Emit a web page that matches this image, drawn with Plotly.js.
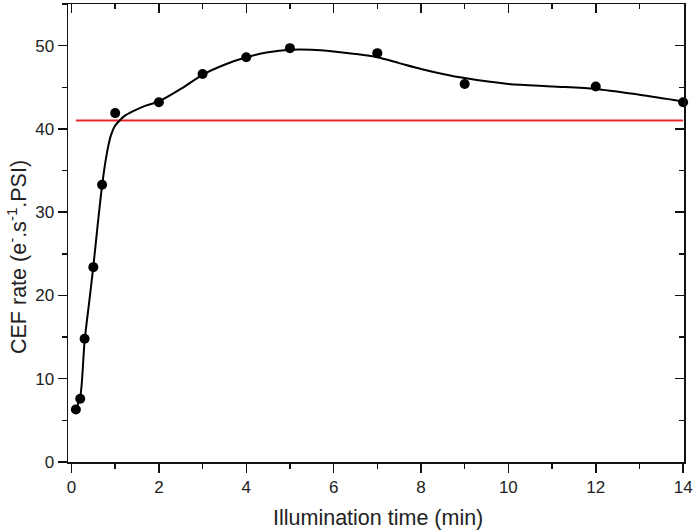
<!DOCTYPE html>
<html>
<head>
<meta charset="utf-8">
<script src="https://cdn.plot.ly/plotly-3.0.1.min.js"></script>
<style>html,body{margin:0;padding:0;background:#fff;}#chart{width:693px;height:532px;}</style>
</head>
<body>
<div id="chart"></div>
<script>
// Measured data points
const timeMin = [0.1, 0.2, 0.3, 0.5, 0.7, 1, 2, 3, 4, 5, 7, 9, 12, 14];
const cefRate = [6.3, 7.6, 14.8, 23.4, 33.3, 41.9, 43.2, 46.6, 48.6, 49.7, 49.1, 45.4, 45.1, 43.2];

// Fitted curve
const fitX = [0.1,0.2,0.3,0.4,0.5,0.6,0.7,0.8,0.9,1.0,1.1,1.2,1.4,1.7,2,2.5,3,3.5,4,4.5,5,5.5,6,6.5,7,7.5,8,8.5,9,10,11,12,13,14];
const fitY = [6.3,7.8,14.5,19,23.5,28.5,33.2,36.8,39.2,40.4,41.0,41.5,42.1,42.8,43.3,44.8,46.5,47.7,48.6,49.2,49.5,49.5,49.3,49.0,48.6,47.9,47.2,46.6,46.1,45.4,45.1,44.8,44.1,43.3];

// Reference level (red line)
const refX = [0.1, 14];
const refY = [41, 41];

const xTickVals = [0, 2, 4, 6, 8, 10, 12, 14];
const yTickVals = [0, 10, 20, 30, 40, 50];
const xTitle = 'Illumination time (min)';
const yTitle = 'CEF rate (e<sup>-</sup>.s<sup>-1</sup>.PSI)';

const xRange = [-0.08, 14.02];
const yRange = [0, 55];
const fam = 'Liberation Sans, Arial, sans-serif';
const tickFont = {family: fam, size: 17, color: '#222'};
const titleFont = {family: fam, size: 21.5, color: '#222'};

const traces = [
  {x: refX, y: refY, mode: 'lines', line: {color: '#e8262b', width: 2}, hoverinfo: 'skip', cliponaxis: false},
  {x: fitX, y: fitY, mode: 'lines', line: {color: '#000', width: 2, shape: 'spline', smoothing: 0.8}, hoverinfo: 'skip'},
  {x: timeMin, y: cefRate, mode: 'markers', marker: {color: '#000', size: 10}, cliponaxis: false},
  // invisible trace to activate mirror axes
  {x: [0], y: [0], xaxis: 'x2', yaxis: 'y2', mode: 'markers', marker: {opacity: 0}, hoverinfo: 'skip'}
];

const axLine = {showgrid: false, zeroline: false, showline: true, linecolor: '#111', linewidth: 1.5, tickwidth: 1.5, tickcolor: '#111', ticklen: 9};

const layout = {
  width: 693, height: 532,
  margin: {l: 68, r: 9, t: 4, b: 70},
  showlegend: false,
  paper_bgcolor: '#fff', plot_bgcolor: '#fff',
  font: tickFont,
  xaxis: Object.assign({}, axLine, {
    range: xRange, ticks: 'outside',
    tickvals: xTickVals, ticktext: xTickVals.map(String),
    minor: {dtick: 1, tick0: 0, ticks: 'outside', ticklen: 5, tickwidth: 1.5, tickcolor: '#111', showgrid: false},
    tickfont: tickFont
  }),
  yaxis: Object.assign({}, axLine, {
    range: yRange, ticks: 'outside',
    tickvals: yTickVals, ticktext: yTickVals.map(String),
    minor: {dtick: 5, tick0: 0, ticks: 'outside', ticklen: 5, tickwidth: 1.5, tickcolor: '#111', showgrid: false},
    tickfont: tickFont
  }),
  xaxis2: Object.assign({}, axLine, {
    overlaying: 'x', side: 'top', range: xRange, ticks: 'inside',
    tickvals: xTickVals, showticklabels: false,
    minor: {dtick: 1, tick0: 0, ticks: 'inside', ticklen: 5, tickwidth: 1.5, tickcolor: '#111', showgrid: false}
  }),
  yaxis2: Object.assign({}, axLine, {
    overlaying: 'y', side: 'right', range: yRange, ticks: 'inside',
    tickvals: yTickVals, showticklabels: false,
    minor: {dtick: 5, tick0: 0, ticks: 'inside', ticklen: 5, tickwidth: 1.5, tickcolor: '#111', showgrid: false}
  }),
  annotations: [
    {text: xTitle, xref: 'paper', yref: 'paper', x: 0.5, y: 0, xanchor: 'center', yanchor: 'middle',
     yshift: -56, xshift: 2, showarrow: false, font: titleFont},
    {text: yTitle, xref: 'paper', yref: 'paper', x: 0, y: 0.4476, xanchor: 'center', yanchor: 'middle',
     xshift: -51, textangle: -90, showarrow: false, font: titleFont}
  ]
};

Plotly.newPlot('chart', traces, layout, {staticPlot: true, displayModeBar: false});
</script>
</body>
</html>
